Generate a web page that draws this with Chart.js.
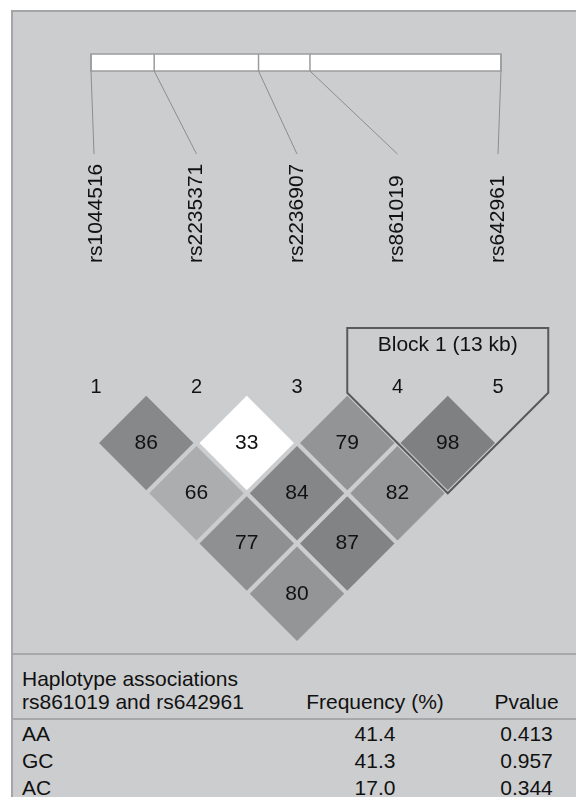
<!DOCTYPE html>
<html>
<head>
<meta charset="utf-8">
<script src="https://cdn.jsdelivr.net/npm/chart.js@4.4.1/dist/chart.umd.min.js"></script>
<style>
  html, body { margin: 0; padding: 0; background: #fff; }
  #wrap { position: relative; width: 576px; height: 797px; overflow: hidden; font-family: "Liberation Sans", Arial, Helvetica, sans-serif; }
  #panel { position: absolute; left: 11px; top: 10px; right: 0; bottom: 0; background: #cccdce;
           border-left: 2px solid #a4a5a6; border-top: 2px solid #a4a5a6; }
  #ld { position: absolute; left: 0; top: 0; }
  #hap { position: absolute; left: 13px; top: 653px; width: 563px; border-collapse: collapse; font-size: 21px; color: #111; }
  #hap th, #hap td { padding: 0; font-weight: normal; }
  #hap thead tr { border-top: 2px solid #a7a8a9; border-bottom: 2px solid #a7a8a9; }
  #hap th { height: 58px; vertical-align: bottom; line-height: 23px; padding-bottom: 5px; }
  #hap td { height: 27px; line-height: 27px; vertical-align: middle; }
  #hap .c1 { width: 265px; text-align: left; padding-left: 9px; }
  #hap .c2 { width: 176px; text-align: center; }
  #hap .c3 { text-align: center; padding-left: 14px; }
</style>
</head>
<body>
<div id="wrap">
  <div id="panel"></div>
  <canvas id="ld" width="576" height="653"></canvas>
  <table id="hap">
    <thead><tr id="hapHead"></tr></thead>
    <tbody id="hapBody"></tbody>
  </table>
</div>
<script>
// markers (SNPs) in plot order, genomic position relative to first SNP (kb)
const snpNames = ["rs1044516", "rs2235371", "rs2236907", "rs861019", "rs642961"];
const snpPosKb = [0, 4.3, 11.4, 14.9, 27.9];

// pairwise LD (D' x 100), pair = [marker i, marker j]
const ldPairs = [[1, 2], [2, 3], [3, 4], [4, 5], [1, 3], [2, 4], [3, 5], [1, 4], [2, 5], [1, 5]];
const ldValues = [86, 33, 79, 98, 66, 84, 82, 77, 87, 80];
const cellShades = ["#87888a", "#ffffff", "#939496", "#7f8082", "#abadaf",
                    "#858688", "#959698", "#8f9092", "#828385", "#949597"];

const blockMarkers = [4, 5];
const blockLabel = "Block 1 (13 kb)";

// haplotype association table
const hapHeader = ["Haplotype associations<br>rs861019 and rs642961", "Frequency (%)", "Pvalue"];
const hapNames = ["AA", "GC", "AC"];
const hapFreq = ["41.4", "41.3", "17.0"];
const hapPvalue = ["0.413", "0.957", "0.344"];

// layout
const W = 576, H = 653;
const X1 = 96, DX = 100.5;       // pixel of marker 1, marker spacing
const Y1 = 443, DY = DX / 2;     // pixel of first LD row, row spacing
const GENE_X0 = 91, GENE_PX_PER_KB = 14.695;
const FONT = '"Liberation Sans", Arial, Helvetica, sans-serif';

function el(id) {
  return document.getElementById(id);
}

function buildTable() {
  el("hapHead").innerHTML =
    `<th class="c1" style="text-align:left">${hapHeader[0]}</th>` +
    `<th class="c2">${hapHeader[1]}</th><th class="c3">${hapHeader[2]}</th>`;
  el("hapBody").innerHTML = hapNames.map((n, i) =>
    `<tr><td class="c1">${n}</td><td class="c2">${hapFreq[i]}</td><td class="c3">${hapPvalue[i]}</td></tr>`
  ).join("");
}

const ldDecor = {
  id: "ldDecor",
  beforeDatasetsDraw(chart) {
    const { ctx, scales } = chart;
    const x = scales.x, g = scales.g;
    const barTop = 54, barBot = 71, lineEnd = 154, labelY = 263, numY = 387;
    const gx = snpPosKb.map(p => g.getPixelForValue(p));

    ctx.save();
    // gene bar
    ctx.fillStyle = "#ffffff";
    ctx.fillRect(gx[0], barTop, gx[gx.length - 1] - gx[0], barBot - barTop);
    ctx.strokeStyle = "#9b9c9d";
    ctx.lineWidth = 1.5;
    ctx.strokeRect(gx[0], barTop, gx[gx.length - 1] - gx[0], barBot - barTop);
    ctx.beginPath();
    gx.forEach(px => { ctx.moveTo(px, barTop); ctx.lineTo(px, barBot); });
    ctx.stroke();

    // connectors to marker labels
    ctx.strokeStyle = "#8c8d8e";
    ctx.lineWidth = 1;
    ctx.beginPath();
    gx.forEach((px, i) => {
      ctx.moveTo(px, barBot);
      ctx.lineTo(x.getPixelForValue(i + 1) - (i === 0 ? 2 : 0), lineEnd);
    });
    ctx.stroke();

    // rotated SNP names
    ctx.fillStyle = "#111";
    ctx.font = `21px ${FONT}`;
    ctx.textAlign = "left";
    ctx.textBaseline = "middle";
    snpNames.forEach((name, i) => {
      ctx.save();
      ctx.translate(x.getPixelForValue(i + 1), labelY);
      ctx.rotate(-Math.PI / 2);
      ctx.fillText(name, 0, 0);
      ctx.restore();
    });

    // marker numbers
    ctx.font = `20px ${FONT}`;
    ctx.textAlign = "center";
    snpNames.forEach((_, i) => ctx.fillText(String(i + 1), x.getPixelForValue(i + 1), numY));
    ctx.restore();
  },
  afterDatasetsDraw(chart) {
    const { ctx, scales } = chart;
    const x = scales.x, y = scales.y;
    const meta = chart.getDatasetMeta(0);

    ctx.save();
    // values in the diamonds
    ctx.fillStyle = "#111";
    ctx.font = `21px ${FONT}`;
    ctx.textAlign = "center";
    ctx.textBaseline = "middle";
    meta.data.forEach((pt, i) => ctx.fillText(String(ldValues[i]), pt.x, pt.y));

    // haplotype block outline
    const [a, b] = blockMarkers;
    const half = (x.getPixelForValue(2) - x.getPixelForValue(1)) / 2;
    const left = x.getPixelForValue(a) - half;
    const right = x.getPixelForValue(b) + half;
    const top = 328;
    const shoulder = y.getPixelForValue(1) - half;
    const tipX = x.getPixelForValue((a + b) / 2);
    const tipY = y.getPixelForValue(b - a) + half;
    ctx.strokeStyle = "#58595a";
    ctx.lineWidth = 2;
    ctx.beginPath();
    ctx.moveTo(left, shoulder);
    ctx.lineTo(left, top);
    ctx.lineTo(right, top);
    ctx.lineTo(right, shoulder);
    ctx.lineTo(tipX, tipY);
    ctx.closePath();
    ctx.stroke();

    ctx.font = `21px ${FONT}`;
    ctx.fillText(blockLabel, (left + right) / 2, 345);
    ctx.restore();
  }
};

function drawLD() {
  const xMin = 1 - X1 / DX;
  const yMin = 1 - Y1 / DY;
  const gMin = -GENE_X0 / GENE_PX_PER_KB;

  new Chart(el("ld"), {
    type: "scatter",
    data: {
      datasets: [{
        data: ldPairs.map(([i, j]) => ({ x: (i + j) / 2, y: j - i })),
        backgroundColor: cellShades,
        pointStyle: "rectRot",
        pointRadius: ctx => {
          const sx = ctx.chart.scales.x;
          return (sx.getPixelForValue(1.5) - sx.getPixelForValue(1)) - 3;
        },
        pointBorderWidth: 0,
        clip: false
      }]
    },
    options: {
      responsive: false,
      animation: false,
      events: [],
      layout: { padding: 0 },
      plugins: { legend: { display: false }, tooltip: { enabled: false } },
      scales: {
        x: { type: "linear", display: false, min: xMin, max: xMin + W / DX },
        g: { type: "linear", axis: "x", display: false, min: gMin, max: gMin + W / GENE_PX_PER_KB },
        y: { type: "linear", display: false, reverse: true, min: yMin, max: yMin + H / DY }
      }
    },
    plugins: [ldDecor]
  });
}

window.addEventListener("load", () => {
  buildTable();
  drawLD();
});
</script>
</body>
</html>
